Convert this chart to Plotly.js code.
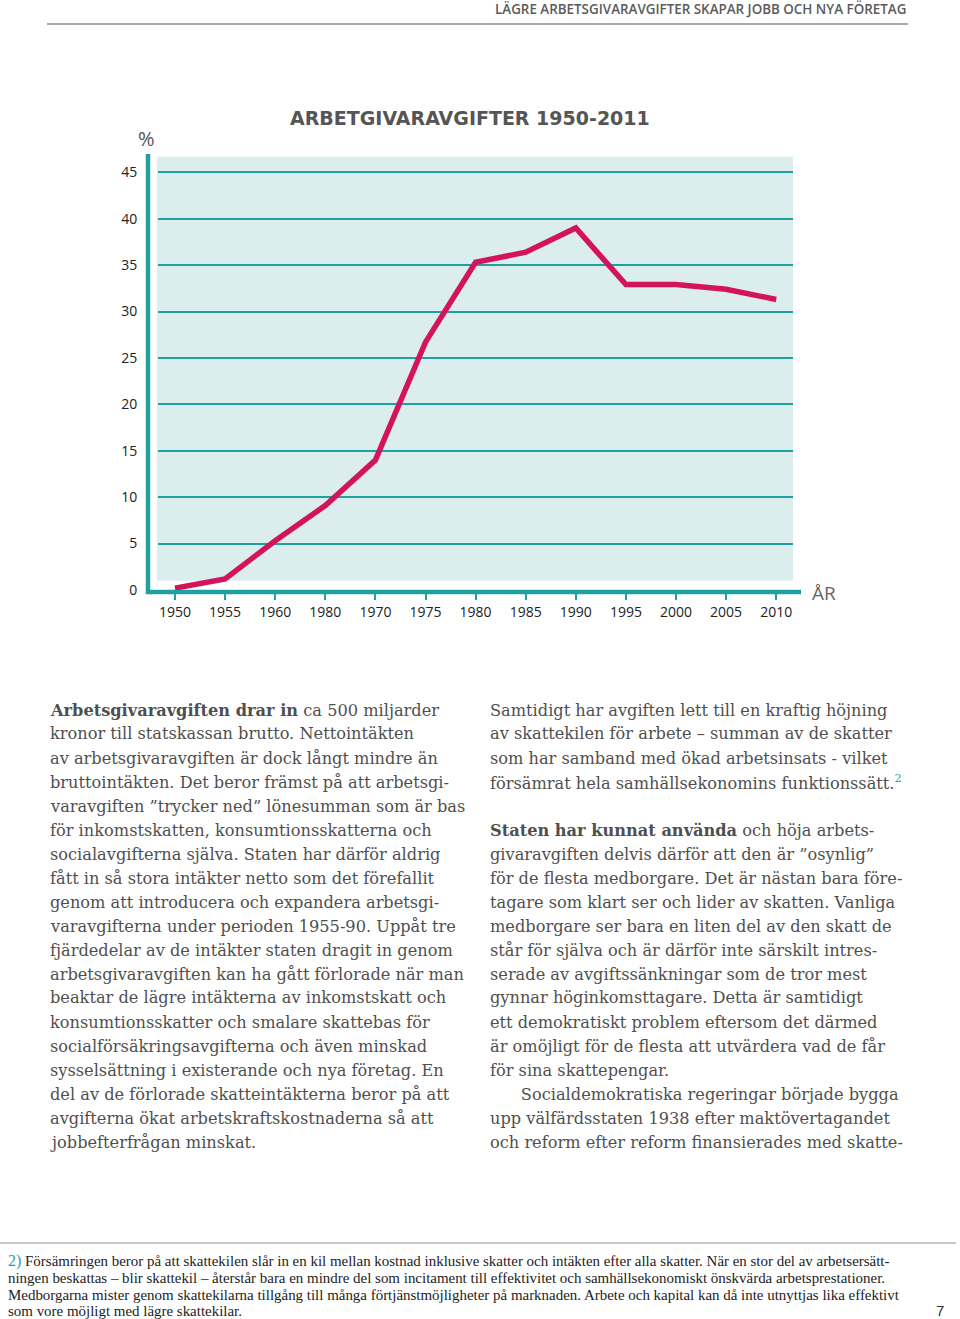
<!DOCTYPE html>
<html>
<head>
<meta charset="utf-8">
<script src="https://cdn.plot.ly/plotly-3.0.1.min.js"></script>
<style>
  html, body { margin: 0; padding: 0; background: #ffffff; }
  #chart { width: 960px; height: 1319px; }
</style>
</head>
<body>
<div id="chart"></div>
<script>
// ---- data ----
const tickLabels = ['1950','1955','1960','1980','1970','1975','1980','1985','1990','1995','2000','2005','2010'];
const feeValues  = [0.2, 1.2, 5.3, 9.1, 14.0, 26.7, 35.3, 36.4, 39.0, 32.9, 32.9, 32.4, 31.3];
const yTickValues = [0, 5, 10, 15, 20, 25, 30, 35, 40, 45];

const chartTitle = 'ARBETGIVARAVGIFTER 1950-2011';
const headerText = 'LÄGRE ARBETSGIVARAVGIFTER SKAPAR JOBB OCH NYA FÖRETAG';

const leftColumn = [
  '<b>Arbetsgivaravgiften drar in</b> ca 500 miljarder',
  'kronor till statskassan brutto. Nettointäkten',
  'av arbetsgivaravgiften är dock långt mindre än',
  'bruttointäkten. Det beror främst på att arbetsgi-',
  'varavgiften ”trycker ned” lönesumman som är bas',
  'för inkomstskatten, konsumtionsskatterna och',
  'socialavgifterna själva. Staten har därför aldrig',
  'fått in så stora intäkter netto som det förefallit',
  'genom att introducera och expandera arbetsgi-',
  'varavgifterna under perioden 1955-90. Uppåt tre',
  'fjärdedelar av de intäkter staten dragit in genom',
  'arbetsgivaravgiften kan ha gått förlorade när man',
  'beaktar de lägre intäkterna av inkomstskatt och',
  'konsumtionsskatter och smalare skattebas för',
  'socialförsäkringsavgifterna och även minskad',
  'sysselsättning i existerande och nya företag. En',
  'del av de förlorade skatteintäkterna beror på att',
  'avgifterna ökat arbetskraftskostnaderna så att',
  'jobbefterfrågan minskat.'
];
const rightColumn = [
  'Samtidigt har avgiften lett till en kraftig höjning',
  'av skattekilen för arbete – summan av de skatter',
  'som har samband med ökad arbetsinsats - vilket',
  'försämrat hela samhällsekonomins funktionssätt.<sup><span style="color:#2aa3a6">2</span></sup>',
  '',
  '<b>Staten har kunnat använda</b> och höja arbets-',
  'givaravgiften delvis därför att den är ”osynlig”',
  'för de flesta medborgare. Det är nästan bara före-',
  'tagare som klart ser och lider av skatten. Vanliga',
  'medborgare ser bara en liten del av den skatt de',
  'står för själva och är därför inte särskilt intres-',
  'serade av avgiftssänkningar som de tror mest',
  'gynnar höginkomsttagare. Detta är samtidigt',
  'ett demokratiskt problem eftersom det därmed',
  'är omöjligt för de flesta att utvärdera vad de får',
  'för sina skattepengar.',
  '\u00a0\u00a0\u00a0\u00a0\u00a0\u00a0Socialdemokratiska regeringar började bygga',
  'upp välfärdsstaten 1938 efter maktövertagandet',
  'och reform efter reform finansierades med skatte-'
];
const footnotes = [
  '<span style="color:#1f9fa3;font-size:16px">2)</span> Försämringen beror på att skattekilen slår in en kil mellan kostnad inklusive skatter och intäkten efter alla skatter. När en stor del av arbetsersätt-',
  'ningen beskattas – blir skattekil – återstår bara en mindre del som incitament till effektivitet och samhällsekonomiskt önskvärda arbetsprestationer.',
  'Medborgarna mister genom skattekilarna tillgång till många förtjänstmöjligheter på marknaden. Arbete och kapital kan då inte utnyttjas lika effektivt',
  'som vore möjligt med lägre skattekilar.'
];
const pageNumber = '7';

// ---- page geometry helpers (pixels -> paper) ----
const W = 960, H = 1319;
const px = v => v / W;
const py = v => 1 - v / H;

const TEAL = '#21a0a2';
const BG = '#dcedee';
const LINE = '#d4145a';

const xIdx = tickLabels.map((_, i) => i);

const trace = {
  type: 'scatter',
  mode: 'lines',
  x: xIdx,
  y: feeValues,
  line: { color: LINE, width: 5.5 },
  hoverinfo: 'skip'
};

const annotations = [];
function textLine(txt, x, y, opts) {
  annotations.push(Object.assign({
    xref: 'paper', yref: 'paper', x: px(x), y: py(y),
    xanchor: 'left', yanchor: 'middle', showarrow: false, text: txt,
    font: { family: 'DejaVu Serif', size: 16.2, color: '#4f4f4f' }
  }, opts || {}));
}

// header
textLine(headerText, 908, 9, { xanchor: 'right', font: { family: 'Open Sans', size: 13.4, color: '#5b5b5b', weight: 600 } });
// axis unit labels
textLine('%', 146, 138, { xanchor: 'center', font: { family: 'Open Sans', size: 20, color: '#555555' } });
textLine('ÅR', 810, 593, { font: { family: 'Open Sans', size: 19, color: '#666666' } });

leftColumn.forEach((t, i) => textLine(t, 48, 710 + 24 * i));
rightColumn.forEach((t, i) => { if (t) textLine(t, 488, 710 + 24 * i); });
footnotes.forEach((t, i) => textLine(t, 6, [1261, 1278, 1294.5, 1311][i], { font: { family: 'Liberation Serif', size: 14.95, color: '#222222' } }));
textLine(pageNumber, 940, 1310, { xanchor: 'center', font: { family: 'Liberation Sans', size: 15, color: '#333333' } });

const shapes = [
  // plot background panel
  { type: 'rect', xref: 'paper', yref: 'paper', x0: px(157), x1: px(793), y0: py(580.7), y1: py(156.7), fillcolor: BG, line: { width: 0 }, layer: 'below' },
  // vertical axis bar
  { type: 'line', xref: 'paper', yref: 'paper', x0: px(148), x1: px(148), y0: py(594), y1: py(154), line: { color: TEAL, width: 4.5 }, layer: 'below' },
  // horizontal axis bar
  { type: 'line', xref: 'paper', yref: 'paper', x0: px(146), x1: px(801), y0: py(592), y1: py(592), line: { color: TEAL, width: 4.5 }, layer: 'below' },
  // header rule
  { type: 'line', xref: 'paper', yref: 'paper', x0: px(47), x1: px(908), y0: py(24), y1: py(24), line: { color: '#8c8c8c', width: 1.5 } },
  // footnote rule
  { type: 'line', xref: 'paper', yref: 'paper', x0: px(0), x1: px(956), y0: py(1243), y1: py(1243), line: { color: '#c8c8c8', width: 2 } }
];

const layout = {
  width: W, height: H,
  margin: { l: 0, r: 0, t: 0, b: 0 },
  paper_bgcolor: '#ffffff',
  plot_bgcolor: 'rgba(0,0,0,0)',
  showlegend: false,
  title: {
    text: chartTitle,
    x: px(290), xanchor: 'left', xref: 'paper',
    y: py(118), yanchor: 'middle', yref: 'paper',
    font: { family: 'DejaVu Sans', size: 19, color: '#555555', weight: 700 }
  },
  xaxis: {
    domain: [px(158), px(793)],
    range: [-0.339, 12.335],
    tickmode: 'array',
    tickvals: xIdx,
    ticktext: tickLabels,
    ticks: 'outside', ticklen: 9, tickwidth: 2, tickcolor: TEAL,
    showgrid: false, zeroline: false, showline: false,
    tickfont: { family: 'Open Sans', size: 14, color: '#222222' },
    fixedrange: true
  },
  yaxis: {
    domain: [py(590), py(156.7)],
    range: [0, 46.68],
    tickmode: 'array',
    tickvals: yTickValues,
    ticks: 'outside', ticklen: 17, tickcolor: 'rgba(0,0,0,0)',
    showgrid: true, gridcolor: TEAL, gridwidth: 2,
    zeroline: false, showline: false,
    tickfont: { family: 'Open Sans', size: 14, color: '#222222' },
    fixedrange: true
  },
  shapes: shapes,
  annotations: annotations
};

Plotly.newPlot('chart', [trace], layout, { displayModeBar: false, staticPlot: true });
</script>
</body>
</html>
